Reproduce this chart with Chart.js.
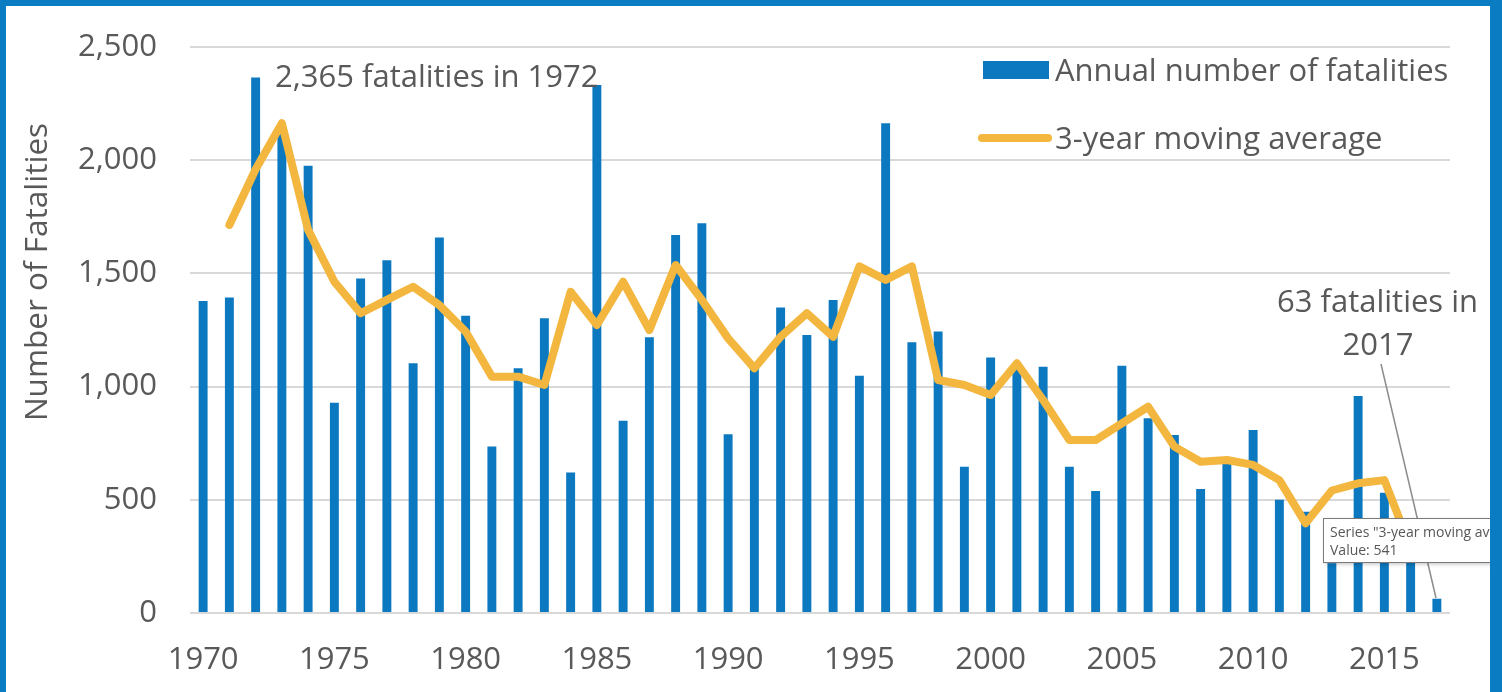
<!DOCTYPE html>
<html>
<head>
<meta charset="utf-8">
<script src="https://cdn.jsdelivr.net/npm/chart.js@4/dist/chart.umd.min.js"></script>
<style>
  html, body { margin: 0; padding: 0; }
  body { width: 1502px; height: 692px; background: #0a7dc2; position: relative; overflow: hidden; }
  #frame { position: absolute; left: 6px; top: 6px; width: 1484px; height: 686px; background: #ffffff; }
  #chart { display: block; }
</style>
</head>
<body>
<div id="frame"><canvas id="chart" width="1484" height="686"></canvas></div>
<script>
// Years shown on the category axis
const years = [
  1970, 1971, 1972, 1973, 1974, 1975, 1976, 1977, 1978, 1979,
  1980, 1981, 1982, 1983, 1984, 1985, 1986, 1987, 1988, 1989,
  1990, 1991, 1992, 1993, 1994, 1995, 1996, 1997, 1998, 1999,
  2000, 2001, 2002, 2003, 2004, 2005, 2006, 2007, 2008, 2009,
  2010, 2011, 2012, 2013, 2014, 2015, 2016, 2017
];

// Annual number of fatalities (bars)
const annualFatalities = [
  1378, 1394, 2365, 2140, 1975, 929, 1478, 1558, 1103, 1659,
  1313, 735, 1081, 1302, 621, 2332, 849, 1218, 1670, 1721,
  789, 1090, 1349, 1228, 1383, 1048, 2163, 1196, 1243, 646,
  1128, 1095, 1088, 646, 539, 1092, 860, 786, 548, 665,
  808, 500, 447, 220, 958, 531, 270, 63
];

// 3-year moving average (line), no value at the two ends
const movingAverage = [
  null, 1714, 1960, 2163, 1692, 1463, 1324, 1383, 1441, 1360,
  1243, 1044, 1044, 1007, 1419, 1272, 1463, 1250, 1537, 1383,
  1213, 1081, 1220, 1324, 1220, 1531, 1471, 1531, 1029, 1007,
  963, 1103, 941, 764, 764, 838, 911, 735, 668, 676,
  654, 587, 396, 541, 573, 587, 288, null
];

// Y axis ticks
const yTicks = [0, 500, 1000, 1500, 2000, 2500];

const barBlue = '#0b78bf';
const lineGold = '#f3b63f';
const textGrey = '#595959';
const gridGrey = '#d9d9d9';
const fontFamily = '"Open Sans", "Noto Sans", sans-serif';

// Draws legend, axis title, annotations and the stray tooltip box on top
const overlayPlugin = {
    id: 'overlay',
    afterDraw(chart) {
        const ctx = chart.ctx;
        ctx.save();

        // y axis title
        ctx.save();
        ctx.translate(32, 266);
        ctx.rotate(-Math.PI / 2);
        ctx.fillStyle = textGrey;
        ctx.font = '31.5px ' + fontFamily;
        ctx.textAlign = 'center';
        ctx.textBaseline = 'middle';
        ctx.fillText('Number of Fatalities', 0, 0);
        ctx.restore();

        ctx.font = '31px ' + fontFamily;
        ctx.fillStyle = textGrey;
        ctx.textAlign = 'left';
        ctx.textBaseline = 'alphabetic';

        // legend
        ctx.fillStyle = barBlue;
        ctx.fillRect(977, 55, 66, 18);
        ctx.fillStyle = textGrey;
        ctx.fillText('Annual number of fatalities', 1049, 75);

        ctx.strokeStyle = lineGold;
        ctx.lineWidth = 8;
        ctx.lineCap = 'round';
        ctx.beginPath();
        ctx.moveTo(976, 132);
        ctx.lineTo(1042, 132);
        ctx.stroke();
        ctx.fillText('3-year moving average', 1049, 143);

        // annotations
        ctx.fillText('2,365 fatalities in 1972', 269, 81);
        ctx.fillText('63 fatalities in', 1271, 306);
        ctx.textAlign = 'center';
        ctx.fillText('2017', 1372, 349);

        // leader line to the 2017 bar
        ctx.strokeStyle = '#8c8c8c';
        ctx.lineWidth = 1.5;
        ctx.lineCap = 'butt';
        ctx.beginPath();
        ctx.moveTo(1375, 358);
        ctx.lineTo(1430, 592);
        ctx.stroke();

        // tooltip box left in the screenshot
        ctx.shadowColor = 'rgba(0,0,0,0.25)';
        ctx.shadowBlur = 4;
        ctx.shadowOffsetX = 2;
        ctx.shadowOffsetY = 2;
        ctx.fillStyle = '#ffffff';
        ctx.fillRect(1317, 512, 200, 44);
        ctx.shadowColor = 'transparent';
        ctx.strokeStyle = '#7a7a7a';
        ctx.lineWidth = 1;
        ctx.strokeRect(1317.5, 512.5, 200, 44);
        ctx.fillStyle = '#575757';
        ctx.font = '14px ' + fontFamily;
        ctx.textAlign = 'left';
        ctx.fillText('Series "3-year moving average" Point "2013"', 1324, 531);
        ctx.fillText('Value: 541', 1324, 549);

        ctx.restore();
    }
};

const chart = new Chart(document.getElementById('chart'), {
    data: {
        labels: years.map(String),
        datasets: [
            {
                type: 'line',
                label: '3-year moving average',
                data: movingAverage,
                borderColor: lineGold,
                backgroundColor: lineGold,
                borderWidth: 8,
                borderJoinStyle: 'round',
                borderCapStyle: 'round',
                pointRadius: 0,
                tension: 0,
                order: 0
            },
            {
                type: 'bar',
                label: 'Annual number of fatalities',
                data: annualFatalities,
                backgroundColor: barBlue,
                categoryPercentage: 1,
                barPercentage: 0.34,
                order: 1
            }
        ]
    },
    options: {
        responsive: false,
        animation: false,
        layout: { autoPadding: false, padding: { left: 0, top: 41, right: 40, bottom: 0 } },
        plugins: {
            legend: { display: false },
            tooltip: { enabled: false }
        },
        scales: {
            x: {
                grid: { display: false, drawTicks: false },
                border: { display: false },
                ticks: {
                    autoSkip: false,
                    maxRotation: 0,
                    minRotation: 0,
                    padding: 29,
                    color: textGrey,
                    font: { family: fontFamily, size: 31 },
                    callback: (val, i) => (years[i] % 5 === 0 ? String(years[i]) : '')
                },
                afterFit: (scale) => {
                    scale.height = 79;
                    scale.paddingLeft = 0;
                    scale.paddingRight = 0;
                }
            },
            y: {
                min: yTicks[0],
                max: yTicks[yTicks.length - 1],
                grid: { color: gridGrey, lineWidth: 2, drawTicks: false },
                border: { display: false },
                afterBuildTicks: (scale) => { scale.ticks = yTicks.map(v => ({ value: v })); },
                ticks: {
                    padding: 33,
                    color: textGrey,
                    font: { family: fontFamily, size: 31 },
                    callback: (v) => v.toLocaleString('en-US')
                },
                afterFit: (scale) => {
                    scale.width = 184;
                    scale.paddingTop = 0;
                    scale.paddingBottom = 0;
                }
            }
        }
    },
    plugins: [overlayPlugin]
});
</script>
</body>
</html>
